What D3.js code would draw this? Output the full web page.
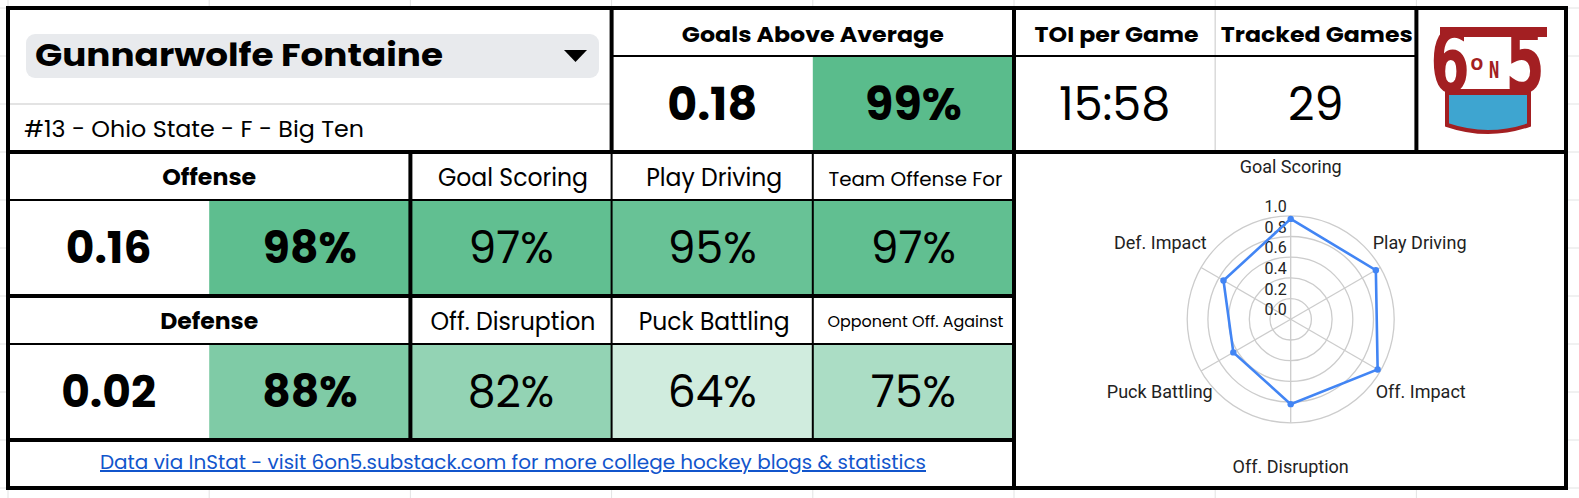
<!DOCTYPE html>
<html>
<head>
<meta charset="utf-8">
<script src="https://cdn.jsdelivr.net/npm/d3@7"></script>
<style>
    body { margin: 0; background: #ffffff; }
    svg { display: block; }
    .card-text { font-family: 'Poppins', 'Inter', sans-serif; fill: #000; }
    .radar-text { font-family: Roboto, Arial, sans-serif; fill: #222; }
</style>
</head>
<body>
<svg id="card" width="1579" height="498"></svg>
<script>
// player header
const playerName = 'Gunnarwolfe Fontaine';
const playerInfo = '#13 - Ohio State - F - Big Ten';
const gaaValue = 0.18;
const gaaPct = 0.99;
const toiPerGame = '15:58';
const trackedGames = 29;

// offense / defense summary
const groups = ['Offense', 'Defense'];
const groupValues = [0.16, 0.02];
const groupPcts = [0.98, 0.88];

// detailed metrics, 3 per group
const metricLabels = [
    ['Goal Scoring', 'Play Driving', 'Team Offense For'],
    ['Off. Disruption', 'Puck Battling', 'Opponent Off. Against']
];
const metricPcts = [
    [0.97, 0.95, 0.97],
    [0.82, 0.64, 0.75]
];

// radar
const radarAxes = ['Goal Scoring', 'Play Driving', 'Off. Impact', 'Off. Disruption', 'Puck Battling', 'Def. Impact'];
const radarValues = [0.97, 0.95, 0.97, 0.82, 0.64, 0.75];
const radarTicks = [0, 0.2, 0.4, 0.6, 0.8, 1.0];

const footerText = 'Data via InStat - visit 6on5.substack.com for more college hockey blogs & statistics';

const THICK = 4;
const THIN = 2;

class PlayerCard {

    _svg;
    _col;
    _row;
    _pctColor;

    constructor(svgId) {
        this._svg = d3.select(`#${svgId}`);

        // sheet columns are ~201px wide, rows 48px
        this._col = d3.scaleLinear().domain([0, 1]).range([8, 209.2]);
        this._row = d3.scaleLinear().domain([0, 1]).range([8, 56]);

        // google sheets style colour scale, white at 50% -> green at 100%
        this._pctColor = d3.scaleLinear()
            .domain([0.5, 1])
            .range(['#ffffff', '#57bb8a'])
            .clamp(true);

        this._drawGrid();
        this._drawHeader();
        this._drawGroups();
        this._drawFooter();
        this._drawRadar();
        this._drawLogo();
        this._drawBorders();
    }

    _drawGrid = function() {
        const g = this._svg.append('g');
        d3.range(-1, 9).forEach(k => {
            g.append('line')
                .attr('x1', this._col(k)).attr('x2', this._col(k))
                .attr('y1', 0).attr('y2', 498)
                .attr('stroke', '#e2e3e3').attr('stroke-width', 1);
        });
        d3.range(-1, 11).forEach(k => {
            g.append('line')
                .attr('x1', 0).attr('x2', 1579)
                .attr('y1', this._row(k)).attr('y2', this._row(k))
                .attr('stroke', '#e2e3e3').attr('stroke-width', 1);
        });
        // card background
        g.append('rect')
            .attr('x', this._col(0)).attr('y', this._row(0))
            .attr('width', 1566 - this._col(0)).attr('height', this._row(10) - this._row(0))
            .attr('fill', '#fff');
    }

    // width: optional, stretches the substitute font to the width poppins would take
    _text(x, y, str, size, weight, anchor, width) {
        const t = this._svg.append('text')
            .classed('card-text', true)
            .attr('x', x)
            .attr('y', y)
            .attr('text-anchor', anchor || 'middle')
            .style('font-size', size + 'px')
            .style('font-weight', weight || 400)
            .text(str);
        if (width) {
            t.attr('textLength', width).attr('lengthAdjust', 'spacingAndGlyphs');
        }
        return t;
    }

    _drawHeader = function() {
        const col = this._col, row = this._row;

        // dropdown chip
        this._svg.append('rect')
            .attr('x', 26).attr('y', 34)
            .attr('width', 573).attr('height', 44)
            .attr('rx', 9)
            .attr('fill', '#e8eaed');
        this._svg.append('path')
            .attr('d', 'M564,50 L587,50 L575.5,62 Z')
            .attr('fill', '#000');
        this._text(35, 66, playerName, 32, 700, 'start', 408);

        this._svg.append('line')
            .attr('x1', col(0)).attr('x2', col(3))
            .attr('y1', row(2)).attr('y2', row(2))
            .attr('stroke', '#dadada').attr('stroke-width', 1.5);
        this._text(24, 137, playerInfo, 23, 400, 'start', 340);

        // goals above average
        this._svg.append('rect')
            .attr('x', col(4)).attr('y', row(1))
            .attr('width', col(5) - col(4)).attr('height', row(3) - row(1))
            .attr('fill', this._pctColor(gaaPct));
        this._text((col(3) + col(5)) / 2, 42, 'Goals Above Average', 21, 700, 'middle', 262);
        this._text((col(3) + col(4)) / 2, 120, d3.format('.2f')(gaaValue), 46, 700);
        this._text((col(4) + col(5)) / 2, 120, d3.format('.0%')(gaaPct), 46, 700);

        // toi / games
        this._svg.append('line')
            .attr('x1', col(6)).attr('x2', col(6))
            .attr('y1', row(0)).attr('y2', row(3))
            .attr('stroke', '#dadada').attr('stroke-width', 1.5);
        this._text((col(5) + col(6)) / 2 + 2, 42, 'TOI per Game', 21, 700, 'middle', 164);
        this._text((col(6) + col(7)) / 2 + 1, 42, 'Tracked Games', 21, 700, 'middle', 192);
        this._text((col(5) + col(6)) / 2, 120, toiPerGame, 46, 400);
        this._text((col(6) + col(7)) / 2, 120, trackedGames, 46, 400);
    }

    _drawGroups = function() {
        const col = this._col, row = this._row;
        const labelSizes = [[24, 24, 20], [24, 24, 16]];
        const labelWidths = [[150, 136, 174], [165, 151, 176]];
        const groupWidths = [94, 98];

        groups.forEach((name, i) => {
            const top = row(3 + i * 3);
            const valTop = row(4 + i * 3);
            const valBottom = row(6 + i * 3);

            this._svg.append('rect')
                .attr('x', col(1)).attr('y', valTop)
                .attr('width', col(2) - col(1)).attr('height', valBottom - valTop)
                .attr('fill', this._pctColor(groupPcts[i]));

            metricPcts[i].forEach((p, j) => {
                this._svg.append('rect')
                    .attr('x', col(2 + j)).attr('y', valTop)
                    .attr('width', col(3 + j) - col(2 + j)).attr('height', valBottom - valTop)
                    .attr('fill', this._pctColor(p));
            });

            this._text((col(0) + col(2)) / 2, top + 33, name, 22, 700, 'middle', groupWidths[i]);
            this._text((col(0) + col(1)) / 2, valTop + 63, d3.format('.2f')(groupValues[i]), 44, 700);
            this._text((col(1) + col(2)) / 2, valTop + 63, d3.format('.0%')(groupPcts[i]), 44, 700);

            metricLabels[i].forEach((label, j) => {
                const size = labelSizes[i][j];
                const baseline = size < 18 ? top + 31 : top + 34;
                this._text((col(2 + j) + col(3 + j)) / 2 + 2, baseline, label, size, 400, 'middle', labelWidths[i][j]);
                this._text((col(2 + j) + col(3 + j)) / 2, valTop + 63, d3.format('.0%')(metricPcts[i][j]), 44, 400);
            });
        });
    }

    _drawFooter = function() {
        this._text((this._col(0) + this._col(5)) / 2 + 2, 469, footerText, 20, 400, 'middle', 826)
            .style('fill', '#1155cc')
            .style('text-decoration', 'underline');
    }

    _drawRadar = function() {
        const cx = 1290.7, cy = 319.3;
        const r = d3.scaleLinear().domain([0, 1]).range([0, 103.5]);
        const angle = d3.scaleLinear().domain([0, radarAxes.length]).range([0, 2 * Math.PI]);
        const g = this._svg.append('g').attr('transform', `translate(${cx},${cy})`);

        radarTicks.filter(t => t > 0).forEach(t => {
            g.append('circle')
                .attr('r', r(t))
                .attr('fill', 'none')
                .attr('stroke', '#cccccc')
                .attr('stroke-width', 1.3);
        });

        radarAxes.forEach((a, i) => {
            const ang = angle(i);
            g.append('line')
                .attr('x1', 0).attr('y1', 0)
                .attr('x2', r(1) * Math.sin(ang))
                .attr('y2', -r(1) * Math.cos(ang))
                .attr('stroke', '#cccccc')
                .attr('stroke-width', 1.3);
        });

        radarTicks.forEach(t => {
            g.append('text')
                .classed('radar-text', true)
                .attr('x', -4)
                .attr('y', -r(t) - 4)
                .attr('text-anchor', 'end')
                .style('font-size', '16px')
                .text(d3.format('.1f')(t));
        });

        // axis labels placed a bit outside the outer ring
        const labelPos = [
            { dx: 0, dy: -146, anchor: 'middle' },
            { dx: 82, dy: -70, anchor: 'start' },
            { dx: 85, dy: 79, anchor: 'start' },
            { dx: 0, dy: 154, anchor: 'middle' },
            { dx: -78, dy: 79, anchor: 'end' },
            { dx: -84, dy: -70, anchor: 'end' }
        ];
        radarAxes.forEach((a, i) => {
            g.append('text')
                .classed('radar-text', true)
                .attr('x', labelPos[i].dx)
                .attr('y', labelPos[i].dy)
                .attr('text-anchor', labelPos[i].anchor)
                .style('font-size', '18px')
                .text(a);
        });

        const radial = d3.lineRadial()
            .angle((d, i) => angle(i))
            .radius(d => r(d))
            .curve(d3.curveLinearClosed);

        g.append('path')
            .datum(radarValues)
            .attr('d', radial)
            .attr('fill', 'none')
            .attr('stroke', '#4285f4')
            .attr('stroke-width', 2.6);

        g.selectAll('.dot')
            .data(radarValues)
            .enter()
            .append('circle')
            .classed('dot', true)
            .attr('cx', (d, i) => r(d) * Math.sin(angle(i)))
            .attr('cy', (d, i) => -r(d) * Math.cos(angle(i)))
            .attr('r', 3.2)
            .attr('fill', '#4285f4');
    }

    _drawLogo = function() {
        const red = '#a31f22';
        const g = this._svg.append('g');

        // bucket
        g.append('path')
            .attr('d', 'M1447,92 L1447,125 Q1488,139 1529,125 L1529,92 Z')
            .attr('fill', '#3ea5d0')
            .attr('stroke', red)
            .attr('stroke-width', 4);
        g.append('rect')
            .attr('x', 1445).attr('y', 89).attr('width', 86).attr('height', 6)
            .attr('fill', red);

        // top bar
        g.append('rect')
            .attr('x', 1440).attr('y', 27).attr('width', 107).attr('height', 10)
            .attr('fill', red);

        g.append('text')
            .attr('transform', 'translate(1450,92) scale(0.66,1.02)')
            .attr('text-anchor', 'middle')
            .style('font-family', 'DejaVu Sans')
            .style('font-weight', 700)
            .style('font-size', '86px')
            .attr('fill', red)
            .text('6');
        g.append('text')
            .attr('transform', 'translate(1525,92) scale(0.66,1.02)')
            .attr('text-anchor', 'middle')
            .style('font-family', 'DejaVu Sans')
            .style('font-weight', 700)
            .style('font-size', '86px')
            .attr('fill', red)
            .text('5');
        g.append('text')
            .attr('x', 1477).attr('y', 70)
            .attr('text-anchor', 'middle')
            .style('font-family', 'DejaVu Sans')
            .style('font-weight', 700)
            .style('font-size', '15px')
            .attr('fill', red)
            .text('O');
        g.append('text')
            .attr('transform', 'translate(1494,78) scale(0.8,1.4)')
            .attr('text-anchor', 'middle')
            .style('font-family', 'DejaVu Sans')
            .style('font-weight', 700)
            .style('font-size', '16px')
            .attr('fill', red)
            .text('N');
    }

    _drawBorders = function() {
        const col = this._col, row = this._row;
        const right = 1566;
        const lines = [
            // thick
            [col(0), row(3), right, row(3), THICK],
            [col(0), row(6), col(5), row(6), THICK],
            [col(0), row(9), col(5), row(9), THICK],
            [col(3), row(0), col(3), row(3), THICK],
            [col(5), row(0), col(5), row(10), THICK],
            [col(7), row(0), col(7), row(3), THICK],
            [col(2), row(3), col(2), row(9), THICK],
            // thin
            [col(3), row(1), col(7), row(1), THIN],
            [col(0), row(4), col(5), row(4), THIN],
            [col(0), row(7), col(5), row(7), THIN],
            [col(3), row(3), col(3), row(9), THIN],
            [col(4), row(3), col(4), row(9), THIN]
        ];
        lines.forEach(l => {
            this._svg.append('line')
                .attr('x1', l[0]).attr('y1', l[1])
                .attr('x2', l[2]).attr('y2', l[3])
                .attr('stroke', '#000')
                .attr('stroke-width', l[4])
                .attr('stroke-linecap', 'square');
        });
        this._svg.append('rect')
            .attr('x', col(0)).attr('y', row(0))
            .attr('width', right - col(0)).attr('height', row(10) - row(0))
            .attr('fill', 'none')
            .attr('stroke', '#000')
            .attr('stroke-width', THICK);
    }
}

new PlayerCard('card');
</script>
</body>
</html>
